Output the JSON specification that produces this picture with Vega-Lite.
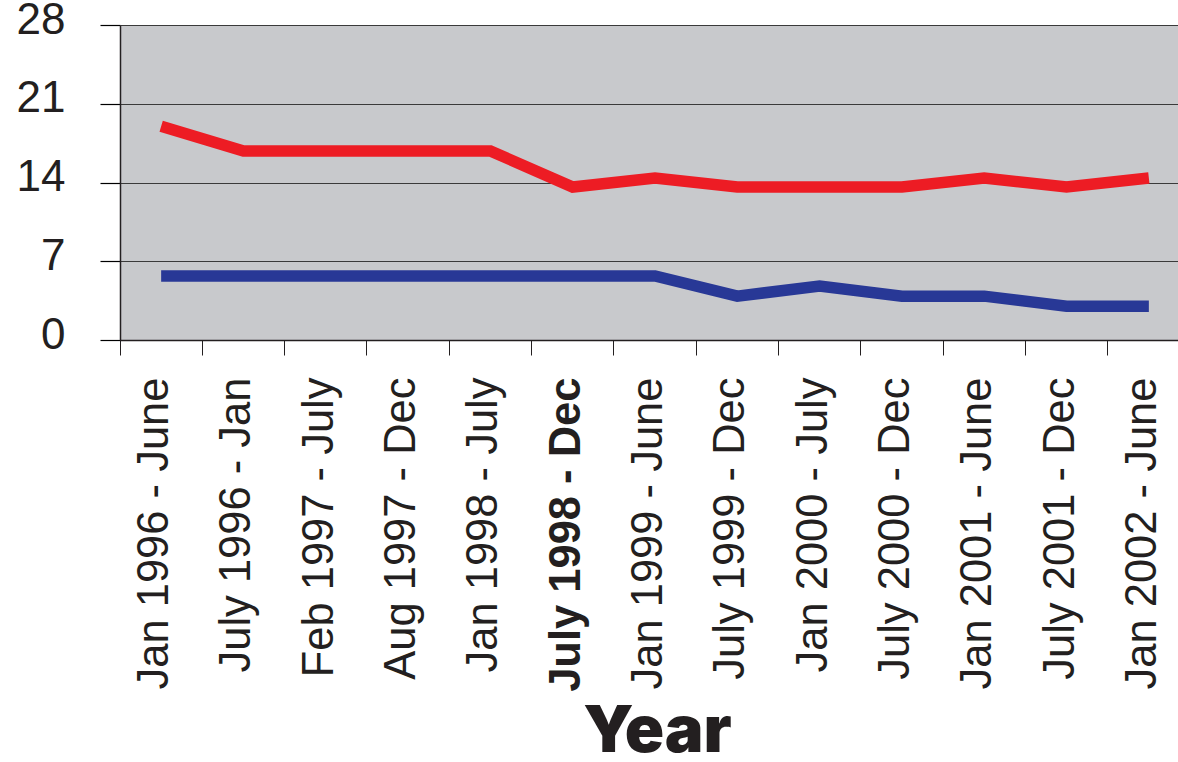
{
  "$schema": "https://vega.github.io/schema/vega-lite/v6.json",
  "width": 1058,
  "height": 315,
  "autosize": {"type": "none"},
  "padding": {"left": 120, "top": 25, "right": 0, "bottom": 422},
  "background": "white",
  "config": {
    "view": {"fill": "#c8c9cc", "stroke": null},
    "font": "Liberation Sans",
    "axisY": {"ticks": true, "tickSize": 20, "tickColor": "black", "tickWidth": 1.2}
  },
  "data": {
    "values": [
      {"period": "Jan 1996 - June", "series": "High", "value": 19.0},
      {"period": "July 1996 - Jan", "series": "High", "value": 16.8},
      {"period": "Feb 1997 - July", "series": "High", "value": 16.8},
      {"period": "Aug 1997 - Dec", "series": "High", "value": 16.8},
      {"period": "Jan 1998 - July", "series": "High", "value": 16.8},
      {"period": "July 1998 - Dec", "series": "High", "value": 13.6},
      {"period": "Jan 1999 - June", "series": "High", "value": 14.4},
      {"period": "July 1999 - Dec", "series": "High", "value": 13.6},
      {"period": "Jan 2000 - July", "series": "High", "value": 13.6},
      {"period": "July 2000 - Dec", "series": "High", "value": 13.6},
      {"period": "Jan 2001 - June", "series": "High", "value": 14.4},
      {"period": "July 2001 - Dec", "series": "High", "value": 13.6},
      {"period": "Jan 2002 - June", "series": "High", "value": 14.4},
      {"period": "Jan 1996 - June", "series": "Low", "value": 5.7},
      {"period": "July 1996 - Jan", "series": "Low", "value": 5.7},
      {"period": "Feb 1997 - July", "series": "Low", "value": 5.7},
      {"period": "Aug 1997 - Dec", "series": "Low", "value": 5.7},
      {"period": "Jan 1998 - July", "series": "Low", "value": 5.7},
      {"period": "July 1998 - Dec", "series": "Low", "value": 5.7},
      {"period": "Jan 1999 - June", "series": "Low", "value": 5.7},
      {"period": "July 1999 - Dec", "series": "Low", "value": 3.9},
      {"period": "Jan 2000 - July", "series": "Low", "value": 4.8},
      {"period": "July 2000 - Dec", "series": "Low", "value": 3.9},
      {"period": "Jan 2001 - June", "series": "Low", "value": 3.9},
      {"period": "July 2001 - Dec", "series": "Low", "value": 3.0},
      {"period": "Jan 2002 - June", "series": "Low", "value": 3.0}
    ]
  },
  "mark": {"type": "line", "strokeWidth": 11.5, "strokeCap": "butt", "strokeJoin": "miter"},
  "encoding": {
    "x": {
      "field": "period",
      "type": "ordinal",
      "sort": null,
      "scale": {"type": "band", "paddingInner": 0, "paddingOuter": 0, "range": [0, 1070]},
      "axis": {
        "title": "Year",
        "titleFont": "Inter",
        "titleFontWeight": 900,
        "titleFontSize": 65,
        "titleColor": "#231f20",
        "titleBaseline": "alphabetic",
        "titleY": 411,
        "titleX": 537,
        "titleAnchor": "middle",
        "bandPosition": 0,
        "labelAngle": 270,
        "labelOffset": -6,
        "labelPadding": 22,
        "labelFontSize": 43.5,
        "labelColor": "#231f20",
        "labelLimit": 500,
        "labelFontWeight": {"expr": "datum.value == 'July 1998 - Dec' ? 'bold' : 'normal'"},
        "ticks": true,
        "tickSize": 15,
        "tickColor": "#231f20",
        "tickWidth": 1,
        "domainColor": "#231f20",
        "domainWidth": 1.5,
        "grid": false
      }
    },
    "y": {
      "field": "value",
      "type": "quantitative",
      "scale": {"domain": [0, 28], "nice": false, "zero": true},
      "axis": {
        "title": null,
        "values": [0, 7, 14, 21, 28],
        "labelFontSize": 44,
        "labelColor": "#231f20",
        "labelPadding": 35,
        "labelOffset": -5,
        "domainColor": "#231f20",
        "domainWidth": 1.5,
        "grid": true,
        "gridColor": "#3a3a3a",
        "gridWidth": 1.2
      }
    },
    "color": {
      "field": "series",
      "type": "nominal",
      "scale": {"domain": ["High", "Low"], "range": ["#ed1c24", "#283896"]},
      "legend": null
    }
  }
}
